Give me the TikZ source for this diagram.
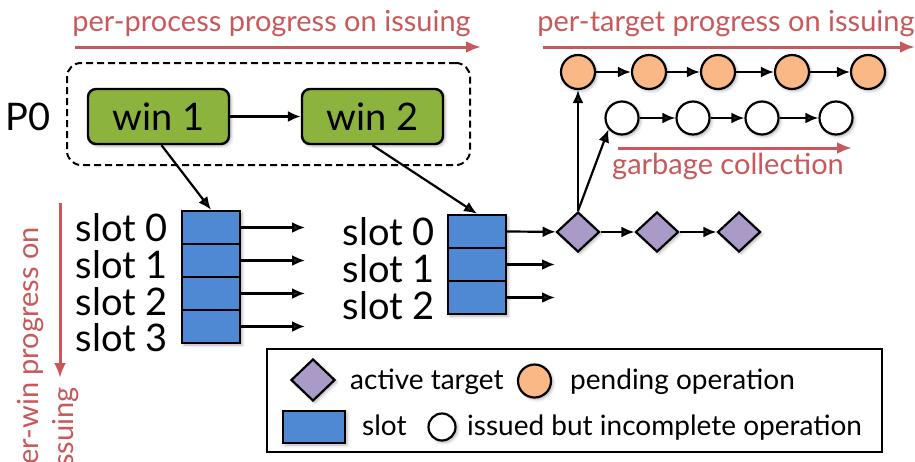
\documentclass[tikz,border=0pt]{standalone}
\usepackage{fontspec}
\setmainfont{Lato}
\usetikzlibrary{arrows.meta,shapes.geometric,shadows.blur}
\definecolor{redc}{HTML}{C9585B}
\definecolor{wingreen}{HTML}{8DB33F}
\definecolor{slotblue}{HTML}{4F89D3}
\definecolor{tgtpurple}{HTML}{A99AC8}
\definecolor{pendorange}{HTML}{F9B886}
\begin{document}
\begin{tikzpicture}[x=1pt,y=-1pt,
  shad/.style={blur shadow={shadow xshift=2pt,shadow yshift=-2pt,shadow blur radius=3pt,shadow opacity=30}},
  win/.style={draw=black,line width=2.4pt,fill=wingreen,rounded corners=8pt,minimum width=141pt,minimum height=55pt,inner sep=0pt,font=\fontsize{38}{40}\selectfont,shad},
  slotbox/.style={draw=black,line width=2.4pt,fill=slotblue,minimum width=58pt,minimum height=33pt,inner sep=0pt},
  tgt/.style={diamond,draw=black,line width=2.2pt,fill=tgtpurple,minimum width=43pt,minimum height=40pt,inner sep=0pt,shad},
  pend/.style={circle,draw=black,line width=2.2pt,fill=pendorange,minimum size=34pt,inner sep=0pt,shad},
  issued/.style={circle,draw=black,line width=2.2pt,fill=white,minimum size=33pt,inner sep=0pt,shad},
  conn/.style={-{Latex[length=13pt,width=11pt]},line width=2.2pt},
  prog/.style={-{Latex[length=15pt,width=12pt]},line width=3pt,draw=redc},
  lbl/.style={font=\fontsize{38}{40}\selectfont,inner sep=0pt},
  redlbl/.style={text=redc,font=\fontsize{29}{32}\selectfont,inner sep=0pt},
  legtxt/.style={font=\fontsize{28}{30}\selectfont,inner sep=0pt}]
\useasboundingbox (0,0) rectangle (915,461);
\clip (0,0) rectangle (915,461);

% progress arrows and labels
\node[redlbl,anchor=base] (tp1) at (271.5,31) {per-process progress on issuing};
\coordinate (pa1) at (75,47); \coordinate (pa2) at (481,47);
\draw[prog] (pa1) -- (pa2);
\node[redlbl,anchor=base] (tp2) at (726,31) {per-target progress on issuing};
\coordinate (pb1) at (543,47); \coordinate (pb2) at (915,47);
\draw[prog] (pb1) -- (pb2);
\node[redlbl,anchor=base] (gc) at (728,174) {garbage collection};
\coordinate (gc1) at (618,148); \coordinate (gc2) at (852,148);
\draw[prog] (gc1) -- (gc2);
\coordinate (pw1) at (60,203); \coordinate (pw2) at (60,378);
\draw[prog] (pw1) -- (pw2);
\node[redlbl,anchor=base east,rotate=90] (pwl1) at (38,227) {per-win progress on};
\node[redlbl,anchor=base east,rotate=90] (pwl2) at (73,387) {issuing};

% process
\node[draw=black,dash pattern=on 7pt off 4pt,line width=2pt,rounded corners=14pt,minimum width=403pt,minimum height=102pt] (proc) at (268.5,114) {};
\node[lbl] (p0) at (28,117) {P0};
\node[win] (w1) at (158.5,116.5) {win 1};
\node[win] (w2) at (372.5,116.5) {win 2};
\draw[conn] (w1) -- (w2);

% slots of win 1
\path[blur shadow={shadow xshift=2pt,shadow yshift=-2pt,shadow blur radius=3pt,shadow opacity=30}] (182,211) rectangle (240,343);
\foreach \i/\y in {0/227.5,1/260.5,2/293.5,3/326.5}{
  \node[slotbox] (a\i) at (211,\y) {};
  \coordinate (ae\i) at (305,\y);
  \draw[conn] (a\i.east) -- (ae\i);
}
\foreach \i/\y in {0/241,1/278,2/315,3/351}{
  \node[lbl,anchor=base east] (al\i) at (168,\y) {slot \i};
}
% slots of win 2
\path[blur shadow={shadow xshift=2pt,shadow yshift=-2pt,shadow blur radius=3pt,shadow opacity=30}] (448,215) rectangle (506,314);
\foreach \i/\y in {0/231.5,1/264.5,2/297.5}{
  \node[slotbox] (b\i) at (477,\y) {};
}
\foreach \i/\y in {0/245,1/282,2/319}{
  \node[lbl,anchor=base east] (bl\i) at (435,\y) {slot \i};
}
\coordinate (be1) at (555,264.5);
\coordinate (be2) at (555,297.5);
\draw[conn] (b1.east) -- (be1);
\draw[conn] (b2.east) -- (be2);

\draw[conn] (w1.south) ++(3,0) -- (a0.north);
\draw[conn] (w2.south) -- (b0.north);

% targets
\node[tgt] (t1) at (578,232) {};
\node[tgt] (t2) at (657,232) {};
\node[tgt] (t3) at (739,232) {};
\draw[conn] (b0.east) -- (t1);
\draw[conn] (t1) -- (t2);
\draw[conn] (t2) -- (t3);

% pending operations
\node[pend] (o1) at (578,72) {};
\node[pend] (o2) at (649,72) {};
\node[pend] (o3) at (718,72) {};
\node[pend] (o4) at (792,72) {};
\node[pend] (o5) at (868,72) {};
\draw[conn] (o1) -- (o2);
\draw[conn] (o2) -- (o3);
\draw[conn] (o3) -- (o4);
\draw[conn] (o4) -- (o5);

% issued operations
\node[issued] (i1) at (622,118) {};
\node[issued] (i2) at (693,118) {};
\node[issued] (i3) at (762,118) {};
\node[issued] (i4) at (836,118) {};
\draw[conn] (i1) -- (i2);
\draw[conn] (i2) -- (i3);
\draw[conn] (i3) -- (i4);

\draw[conn] (t1.north) -- (o1.south);
\draw[conn] (t1.north) -- (i1.220);

% legend
\node[draw=black,line width=1.5pt,minimum width=615pt,minimum height=103pt,inner sep=0pt] (leg) at (574.5,400.5) {};
\node[tgt,minimum width=44pt,minimum height=42pt] (lt) at (313,380) {};
\node[legtxt,anchor=base west] (ltt) at (350,389) {active target};
\node[pend,minimum size=33pt] (lp) at (534.5,381) {};
\node[legtxt,anchor=base west] (lpt) at (570,389) {pending operation};
\node[slotbox,minimum width=62pt,minimum height=32pt,shad] (ls) at (314,427) {};
\node[legtxt,anchor=base west] (lst) at (362,435) {slot};
\node[issued,minimum size=27pt] (li) at (442,427) {};
\node[legtxt,anchor=base west] (lit) at (467,435) {issued but incomplete operation};
\end{tikzpicture}
\end{document}
